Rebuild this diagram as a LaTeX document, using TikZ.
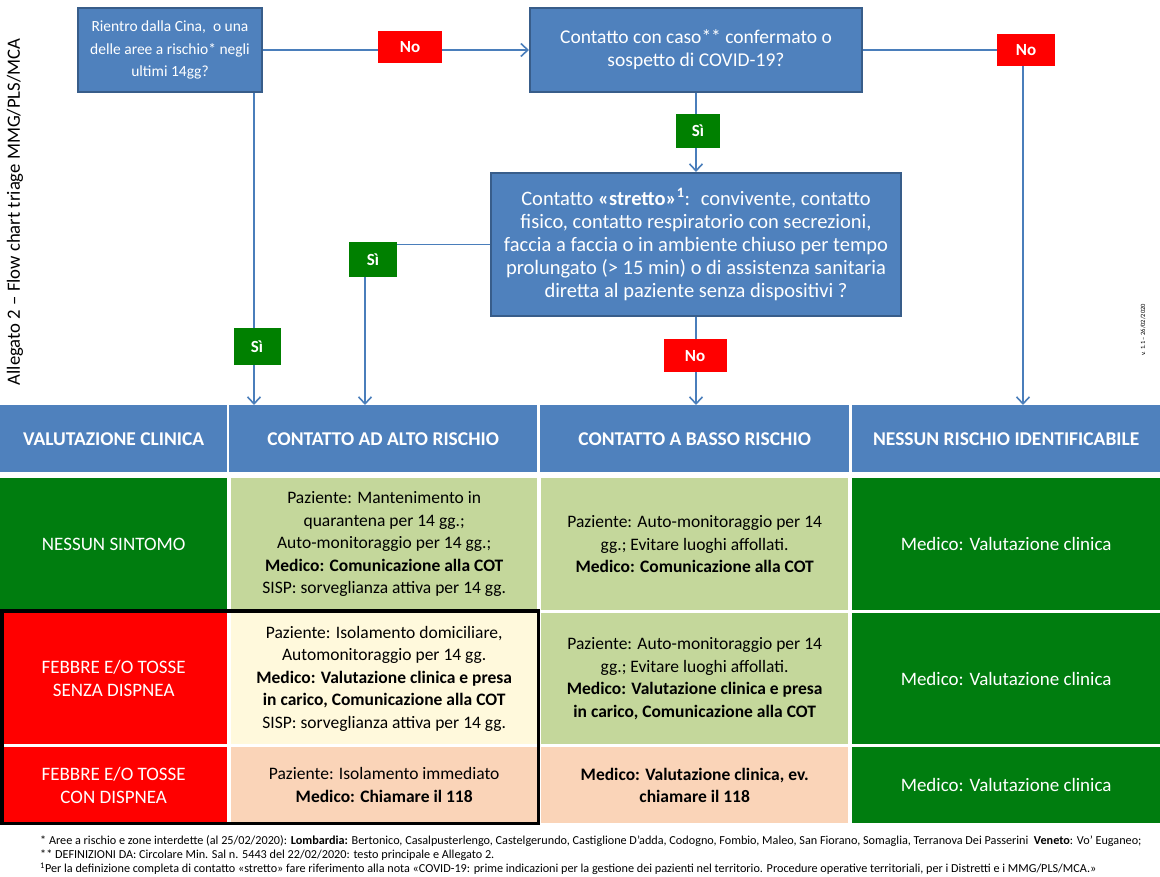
\documentclass[tikz,border=0pt]{standalone}
\usepackage{fontspec}
\setmainfont{Carlito}
\usetikzlibrary{arrows.meta,calc}
\definecolor{boxblue}{HTML}{4F81BD}
\definecolor{boxedge}{HTML}{385D8A}
\definecolor{hdrblue}{HTML}{4F81BD}
\definecolor{redc}{HTML}{FF0000}
\definecolor{greenc}{HTML}{008000}
\definecolor{cellgreen}{HTML}{007D0F}
\definecolor{lightgreen}{HTML}{C4D79B}
\definecolor{lightyellow}{HTML}{FFF9DC}
\definecolor{peach}{HTML}{FAD4B8}
\definecolor{connc}{HTML}{4A7EBB}
\begin{document}
\begin{tikzpicture}[x=1pt,y=-1pt,
  qbox/.style={draw=boxedge, line width=2pt, fill=boxblue, text=white, align=center, inner sep=0pt},
  nolab/.style={fill=redc, text=white, inner sep=0pt, font=\fontsize{17}{20}\selectfont\bfseries},
  silab/.style={fill=greenc, text=white, inner sep=0pt, font=\fontsize{17}{20}\selectfont\bfseries},
  cell/.style={inner sep=0pt, align=center, anchor=north west, font=\fontsize{17.5}{22.5}\selectfont},
  wcell/.style={cell, text=white, font=\fontsize{19}{23}\selectfont},
  hdr/.style={cell, fill=hdrblue, text=white, minimum height=67pt, font=\fontsize{19.5}{22}\selectfont\bfseries},
  conn/.style={draw=connc, line width=1.6pt, -{Straight Barb[length=7pt,width=13pt,line width=1.6pt]}},
  foot/.style={anchor=west, inner sep=0pt, font=\fontsize{12.2}{14}\selectfont}
]
\useasboundingbox (0,0) rectangle (1160,877);

% ---------- table ----------
\node[hdr, minimum width=227pt] (h1) at (0,405) {VALUTAZIONE CLINICA};
\node[hdr, minimum width=308pt] (h2) at (229,405) {CONTATTO AD ALTO RISCHIO};
\node[hdr, minimum width=309pt] (h3) at (540,405) {CONTATTO A BASSO RISCHIO};
\node[hdr, minimum width=308pt] (h4) at (852,405) {NESSUN RISCHIO IDENTIFICABILE};

% row 1
\node[wcell, fill=cellgreen, minimum width=227pt, minimum height=132pt] (r1c1) at (0,478) {NESSUN SINTOMO};
\node[cell, fill=lightgreen, minimum width=306pt, minimum height=132pt] (r1c2) at (231,478)
 {Paziente: Mantenimento in\\quarantena per 14 gg.;\\Auto-monitoraggio per 14 gg.;\\\textbf{Medico: Comunicazione alla COT}\\SISP: sorveglianza attiva per 14 gg.};
\node[cell, fill=lightgreen, minimum width=307pt, minimum height=132pt] (r1c3) at (541,478)
 {Paziente: Auto-monitoraggio per 14\\gg.; Evitare luoghi affollati.\\\textbf{Medico: Comunicazione alla COT}};
\node[wcell, fill=cellgreen, minimum width=308pt, minimum height=132pt] (r1c4) at (852,478) {Medico: Valutazione clinica};

% row 2
\node[wcell, fill=redc, minimum width=227pt, minimum height=131pt] (r2c1) at (0,613) {FEBBRE E/O TOSSE\\SENZA DISPNEA};
\node[cell, fill=lightyellow, minimum width=306pt, minimum height=131pt] (r2c2) at (231,613)
 {Paziente: Isolamento domiciliare,\\Automonitoraggio per 14 gg.\\\textbf{Medico: Valutazione clinica e presa}\\\textbf{in carico, Comunicazione alla COT}\\SISP: sorveglianza attiva per 14 gg.};
\node[cell, fill=lightgreen, minimum width=307pt, minimum height=131pt] (r2c3) at (541,613)
 {Paziente: Auto-monitoraggio per 14\\gg.; Evitare luoghi affollati.\\\textbf{Medico: Valutazione clinica e presa}\\\textbf{in carico, Comunicazione alla COT}};
\node[wcell, fill=cellgreen, minimum width=308pt, minimum height=131pt] (r2c4) at (852,613) {Medico: Valutazione clinica};

% row 3
\node[wcell, fill=redc, minimum width=227pt, minimum height=76pt] (r3c1) at (0,747) {FEBBRE E/O TOSSE\\CON DISPNEA};
\node[cell, fill=peach, minimum width=306pt, minimum height=76pt] (r3c2) at (231,747)
 {Paziente: Isolamento immediato\\\textbf{Medico: Chiamare il 118}};
\node[cell, fill=peach, minimum width=307pt, minimum height=76pt] (r3c3) at (541,747)
 {\textbf{Medico: Valutazione clinica, ev.}\\\textbf{chiamare il 118}};
\node[wcell, fill=cellgreen, minimum width=308pt, minimum height=76pt] (r3c4) at (852,747) {Medico: Valutazione clinica};

% black frame
\draw[line width=3.5pt] (1.75,611) rectangle (538.5,823.5);

% ---------- question boxes ----------
\node[qbox, minimum width=184pt, minimum height=84pt, font=\fontsize{15.5}{22.5}\selectfont] (q1) at (170,50)
 {Rientro dalla Cina,~ o una\\delle aree a rischio* negli\\ultimi 14gg?};
\node[qbox, minimum width=332pt, minimum height=84pt, font=\fontsize{19.5}{23}\selectfont] (q2) at (696,50)
 {Contatto con caso** confermato o\\sospetto di COVID-19?};
\node[qbox, minimum width=410pt, minimum height=143pt, font=\fontsize{20.5}{23}\selectfont] (q3) at (696,244.5)
 {Contatto \textbf{«stretto»\textsuperscript{1}}:~ convivente, contatto\\fisico, contatto respiratorio con secrezioni,\\faccia a faccia o in ambiente chiuso per tempo\\prolungato (> 15 min) o di assistenza sanitaria\\diretta al paziente senza dispositivi ?};

% ---------- connectors ----------
\coordinate (a1) at (254,405);
\coordinate (a2) at (365,405);
\coordinate (a3) at (696,405);
\coordinate (a4) at (1023,405);
\draw[conn] (q1.east) -- (q2.west);
\draw[conn] (q2.east) -| (a4);
\draw[conn] (q2.south) -- (q3.north);
\draw[conn] (q3.south) -- (a3);
\draw[conn] (q3.west) -| (a2);
\draw[conn] (q1.south -| a1) -- (a1);

% ---------- labels ----------
\node[nolab, minimum width=64pt, minimum height=32pt] (no1) at (410,47) {No};
\node[nolab, minimum width=58pt, minimum height=32pt] (no2) at (1026,50) {No};
\node[nolab, minimum width=63pt, minimum height=33pt] (no3) at (695,356) {No};
\node[silab, minimum width=44pt, minimum height=34pt] (si1) at (698,131) {Sì};
\node[silab, minimum width=48pt, minimum height=35pt] (si2) at (373,260) {Sì};
\node[silab, minimum width=47pt, minimum height=37pt] (si3) at (257,347) {Sì};

% ---------- side texts ----------
\node[rotate=90, inner sep=0pt, font=\fontsize{18.7}{22}\selectfont] (side) at (15,212) {Allegato 2 – Flow chart triage MMG/PLS/MCA};
\node[rotate=90, inner sep=0pt, font=\fontsize{6.5}{8}\selectfont] (ver) at (1143,330) {v. 1.1 – 26/02/2020};

% ---------- footnotes ----------
\node[foot] (f1) at (40,841) {* Aree a rischio e zone interdette (al 25/02/2020): \textbf{Lombardia:} Bertonico, Casalpusterlengo, Castelgerundo, Castiglione D’adda, Codogno, Fombio, Maleo, San Fiorano, Somaglia, Terranova Dei Passerini~ \textbf{Veneto}: Vo’ Euganeo;};
\node[foot] (f2) at (40,855) {** DEFINIZIONI DA: Circolare Min. Sal n. 5443 del 22/02/2020: testo principale e Allegato 2.};
\node[foot] (f3) at (40,869) {\textsuperscript{1}Per la definizione completa di contatto «stretto» fare riferimento alla nota «COVID-19: prime indicazioni per la gestione dei pazienti nel territorio. Procedure operative territoriali, per i Distretti e i MMG/PLS/MCA.»};
\end{tikzpicture}
\end{document}
